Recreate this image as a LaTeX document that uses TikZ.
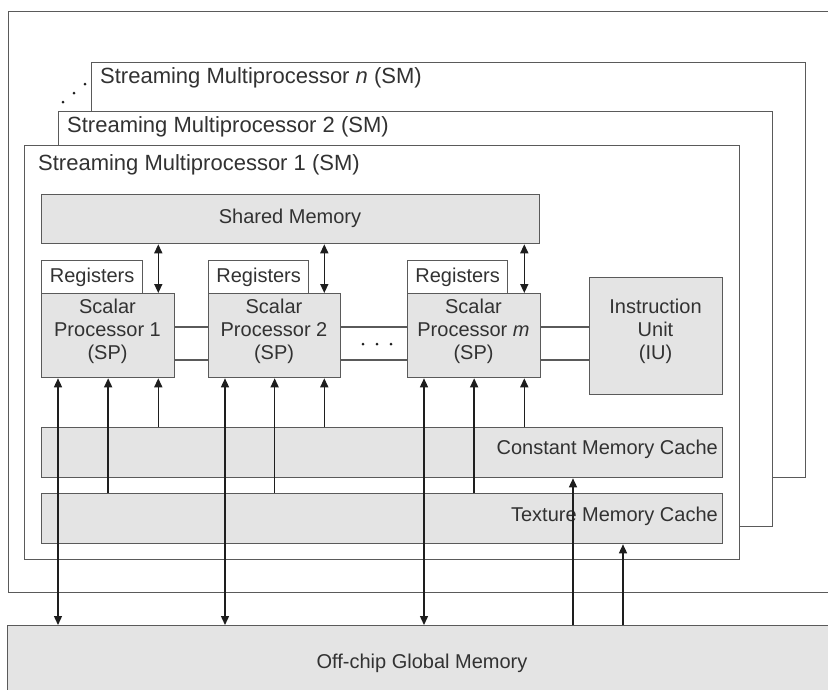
\documentclass[tikz,border=0pt]{standalone}
\usepackage{fontspec}
\setmainfont{Liberation Sans}
\usetikzlibrary{arrows.meta}
\definecolor{boxc}{RGB}{228,228,228}
\definecolor{bordc}{RGB}{90,90,90}
\definecolor{txtc}{RGB}{50,50,50}
\definecolor{arrc}{RGB}{30,30,30}
\begin{document}
\begin{tikzpicture}[x=1pt,y=-1pt,
  box/.style={draw=bordc,line width=1.3pt,fill=boxc,inner sep=0pt,anchor=north west},
  wbox/.style={box,fill=white},
  lbl/.style={font=\fontsize{20}{23}\selectfont,text=txtc,inner sep=0pt,align=center},
  ttl/.style={lbl,font=\fontsize{22}{24}\selectfont,anchor=west},
  link/.style={draw=bordc,line width=1.3pt},
  conn/.style={draw=arrc,line width=1.4pt},
  arr/.style={conn,-{Triangle[length=9pt,width=8pt]}},
  darr/.style={conn,{Triangle[length=9pt,width=8pt]}-{Triangle[length=9pt,width=8pt]}},
  dotc/.style={fill=arrc,draw=none,circle,inner sep=0pt,minimum size=3pt}
]
\useasboundingbox (0,0) rectangle (828,689);
\clip (0,0) rectangle (828,689);
\fill[white] (0,0) rectangle (828,689);

% chip and global memory
\node[wbox,minimum width=850pt,minimum height=581pt] (chip) at (8,11) {};
\node[box,minimum width=850pt,minimum height=90pt] (gm) at (7,625) {};
\node[lbl] (gmt) at (422,663) {Off-chip Global Memory};

% streaming multiprocessors
\node[wbox,minimum width=714pt,minimum height=415pt] (smn) at (91,62) {};
\node[ttl] (smnt) at (100,78) {Streaming Multiprocessor \textit{n} (SM)};
\node[dotc] (d1) at (63,102) {};
\node[dotc] (d2) at (74,93) {};
\node[dotc] (d3) at (85,84) {};
\node[wbox,minimum width=714pt,minimum height=415pt] (sm2) at (58,111) {};
\node[ttl] (sm2t) at (67,127) {Streaming Multiprocessor 2 (SM)};
\node[wbox,minimum width=715pt,minimum height=414pt] (sm1) at (24,145) {};
\node[ttl] (sm1t) at (38,165) {Streaming Multiprocessor 1 (SM)};

% shared memory
\node[box,minimum width=498pt,minimum height=49pt] (sh) at (41,194) {};
\node[lbl] (sht) at (290,218) {Shared Memory};

% registers
\node[wbox,minimum width=101pt,minimum height=33pt] (r1) at (41,260) {};
\node[lbl] at (r1.center) {Registers};
\node[wbox,minimum width=100pt,minimum height=33pt] (r2) at (208,260) {};
\node[lbl] at (r2.center) {Registers};
\node[wbox,minimum width=100pt,minimum height=33pt] (rm) at (407,260) {};
\node[lbl] at (rm.center) {Registers};

% scalar processors
\node[box,minimum width=133pt,minimum height=84pt] (sp1) at (41,293) {};
\node[lbl] at (107.5,331) {Scalar\\Processor 1\\(SP)};
\node[box,minimum width=132pt,minimum height=84pt] (sp2) at (208,293) {};
\node[lbl] at (274,331) {Scalar\\Processor 2\\(SP)};
\node[box,minimum width=133pt,minimum height=84pt] (spm) at (407,293) {};
\node[lbl] at (473.5,331) {Scalar\\Processor \textit{m}\\(SP)};

% instruction unit
\node[box,minimum width=133pt,minimum height=117pt] (iu) at (589,277) {};
\node[lbl] at (655.5,331) {Instruction\\Unit\\(IU)};

% caches
\node[box,minimum width=681pt,minimum height=50pt] (cc) at (41,427) {};
\node[lbl,anchor=east] at (718,449) {Constant Memory Cache};
\node[box,minimum width=681pt,minimum height=50pt] (tc) at (41,493) {};
\node[lbl,anchor=east] at (718,516) {Texture Memory Cache};

% SP interconnect lines
\foreach \a/\b in {sp1/sp2,sp2/spm,spm/iu}{
  \draw[link] ([yshift=-34pt]\a.north east) -- ([yshift=-34pt]\a.north east -| \b.west);
  \draw[link] ([yshift=-67pt]\a.north east) -- ([yshift=-67pt]\a.north east -| \b.west);
}
\node[dotc] (e1) at (363,344) {};
\node[dotc] (e2) at (377,344) {};
\node[dotc] (e3) at (391,344) {};

% shared memory <-> SP
\foreach \s in {sp1,sp2,spm}{
  \draw[darr] ([xshift=-17pt]\s.north east |- sh.south) -- ([xshift=-17pt]\s.north east);
  % to global memory
  \draw[darr] ([xshift=17pt]\s.south west) -- ([xshift=17pt]\s.south west |- gm.north);
  % texture cache -> SP
  \draw[arr] (\s.south |- tc.north) -- (\s.south);
  % constant cache -> SP
  \draw[arr] ([xshift=-17pt]\s.south east |- cc.north) -- ([xshift=-17pt]\s.south east);
}

% global memory -> caches
\coordinate (gx1) at (573,0);
\coordinate (gx2) at (623,0);
\draw[arr] (gx1 |- gm.north) -- (gx1 |- cc.south);
\draw[arr] (gx2 |- gm.north) -- (gx2 |- tc.south);
\end{tikzpicture}
\end{document}
